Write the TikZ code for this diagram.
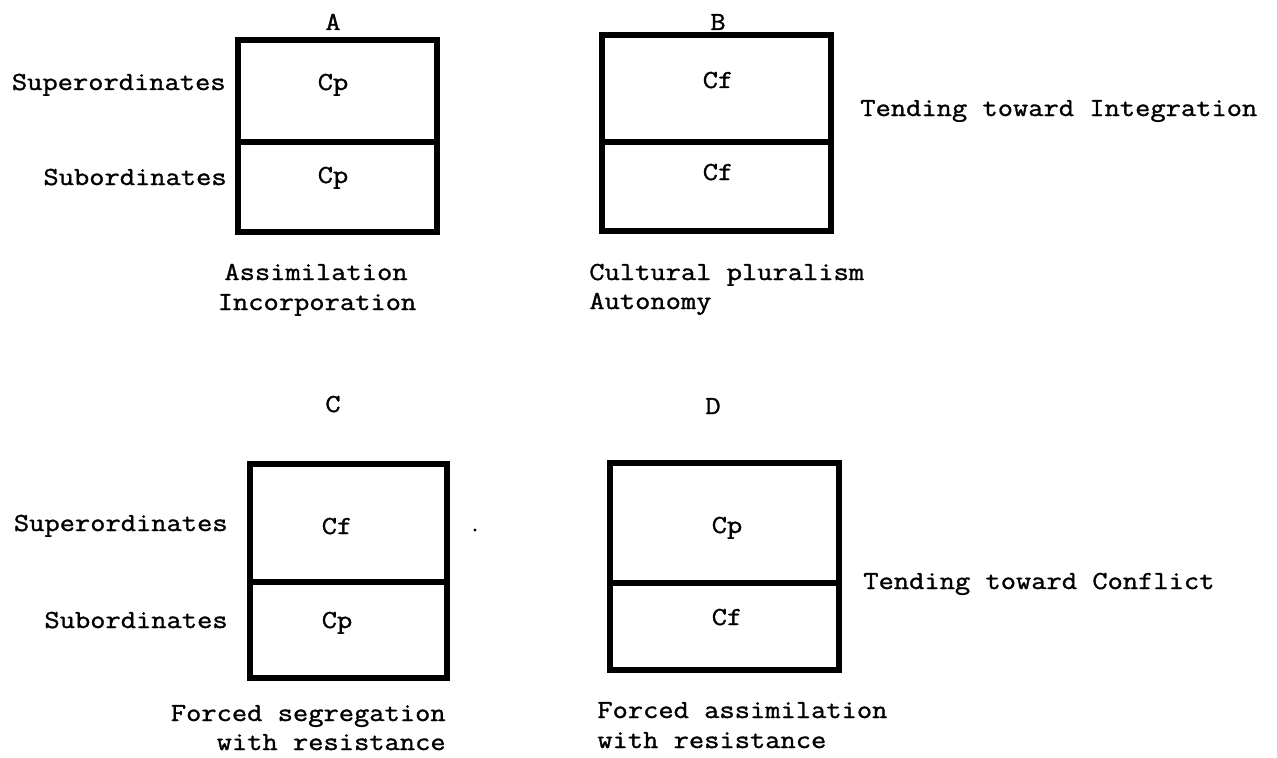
\documentclass[tikz,border=0pt]{standalone}
\usepackage{fontspec}
\newfontfamily\tw{Latin Modern Mono}[FakeStretch=1.14, FakeBold=1.2]
\begin{document}
\begin{tikzpicture}[x=0.02cm,y=-0.02cm,
  boxline/.style={line width=3.3pt, line cap=rect, line join=miter},
  midline/.style={line width=3.8pt},
  lbl/.style={font=\tw\fontsize{14.8}{17}\selectfont, inner sep=0pt, anchor=base},
  lblr/.style={lbl, anchor=base east},
  lbll/.style={lbl, anchor=base west}]
\useasboundingbox (0,0) rectangle (1277,757);
% boxes
\draw[boxline] (238,40) rectangle (437,232);
\draw[midline] (238,142) -- (437,142);
\draw[boxline] (602,35) rectangle (831,231);
\draw[midline] (602,142) -- (831,142);
\draw[boxline] (250,464) rectangle (447,678);
\draw[midline] (250,582) -- (447,582);
\draw[boxline] (610,463) rectangle (839,670);
\draw[midline] (610,583) -- (839,583);
% titles
\node[lbl] (tA) at (333,30) {A};
\node[lbl] (tB) at (718,30) {B};
\node[lbl] (tC) at (333,412) {C};
\node[lbl] (tD) at (713,414) {D};
% row labels
\node[lblr] (supA) at (226,90) {Superordinates};
\node[lblr] (subA) at (227,185) {Subordinates};
\node[lblr] (supC) at (228,531) {Superordinates};
\node[lblr] (subC) at (228,628) {Subordinates};
% cell contents
\node[lbl] (a1) at (333,90) {Cp};
\node[lbl] (a2) at (333,183) {Cp};
\node[lbl] (b1) at (718,88) {Cf};
\node[lbl] (b2) at (718,180) {Cf};
\node[lbl] (c1) at (337,534) {Cf};
\node[lbl] (c2) at (337,628) {Cp};
\node[lbl] (d1) at (727,533) {Cp};
\node[lbl] (d2) at (727,625) {Cf};
% side labels
\node[lbll] (tint) at (860,116) {Tending toward Integration};
\node[lbll] (tcon) at (863,589) {Tending toward Conflict};
% captions
\node[lbl] (capA1) at (316,280) {Assimilation};
\node[lbl] (capA2) at (317,310) {Incorporation};
\node[lbll] (capB1) at (589,280) {Cultural pluralism};
\node[lbll] (capB2) at (589,309) {Autonomy};
\node[lblr] (capC1) at (446,721) {Forced segregation};
\node[lblr] (capC2) at (446,750) {with resistance};
\node[lbll] (capD1) at (597,718) {Forced assimilation};
\node[lbll] (capD2) at (597,748) {with resistance};
% stray dot
\fill (475,530) circle (1.6);
\end{tikzpicture}
\end{document}
